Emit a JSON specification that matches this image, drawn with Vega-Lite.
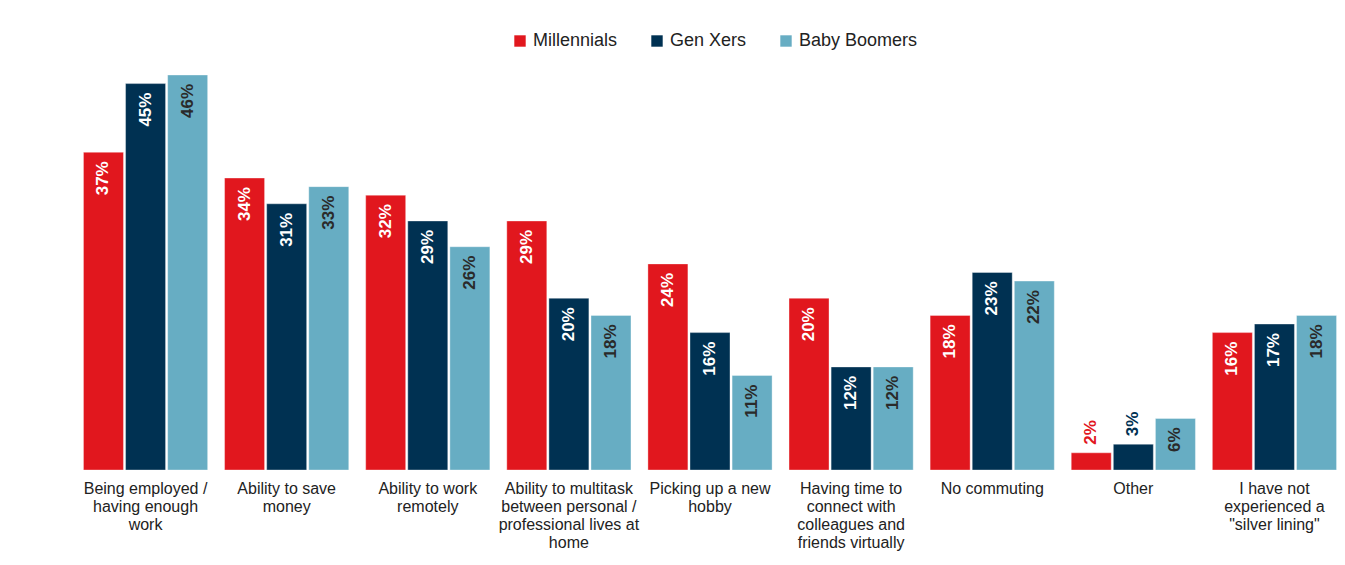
{
  "$schema": "https://vega.github.io/schema/vega-lite/v6.json",
  "width": 1270,
  "height": 395,
  "autosize": {"type": "none"},
  "padding": {"left": 75, "top": 75, "right": 0, "bottom": 95},
  "background": "white",
  "config": {
    "font": "Liberation Sans",
    "view": {"stroke": null}
  },
  "data": {
    "values": [
      {"c": "Being employed / having enough work", "g": "Millennials", "v": 37},
      {"c": "Being employed / having enough work", "g": "Gen Xers", "v": 45},
      {"c": "Being employed / having enough work", "g": "Baby Boomers", "v": 46},
      {"c": "Ability to save money", "g": "Millennials", "v": 34},
      {"c": "Ability to save money", "g": "Gen Xers", "v": 31},
      {"c": "Ability to save money", "g": "Baby Boomers", "v": 33},
      {"c": "Ability to work remotely", "g": "Millennials", "v": 32},
      {"c": "Ability to work remotely", "g": "Gen Xers", "v": 29},
      {"c": "Ability to work remotely", "g": "Baby Boomers", "v": 26},
      {"c": "Ability to multitask between personal / professional lives at home", "g": "Millennials", "v": 29},
      {"c": "Ability to multitask between personal / professional lives at home", "g": "Gen Xers", "v": 20},
      {"c": "Ability to multitask between personal / professional lives at home", "g": "Baby Boomers", "v": 18},
      {"c": "Picking up a new hobby", "g": "Millennials", "v": 24},
      {"c": "Picking up a new hobby", "g": "Gen Xers", "v": 16},
      {"c": "Picking up a new hobby", "g": "Baby Boomers", "v": 11},
      {"c": "Having time to connect with colleagues and friends virtually", "g": "Millennials", "v": 20},
      {"c": "Having time to connect with colleagues and friends virtually", "g": "Gen Xers", "v": 12},
      {"c": "Having time to connect with colleagues and friends virtually", "g": "Baby Boomers", "v": 12},
      {"c": "No commuting", "g": "Millennials", "v": 18},
      {"c": "No commuting", "g": "Gen Xers", "v": 23},
      {"c": "No commuting", "g": "Baby Boomers", "v": 22},
      {"c": "Other", "g": "Millennials", "v": 2},
      {"c": "Other", "g": "Gen Xers", "v": 3},
      {"c": "Other", "g": "Baby Boomers", "v": 6},
      {"c": "I have not experienced a \"silver lining\"", "g": "Millennials", "v": 16},
      {"c": "I have not experienced a \"silver lining\"", "g": "Gen Xers", "v": 17},
      {"c": "I have not experienced a \"silver lining\"", "g": "Baby Boomers", "v": 18}
    ]
  },
  "transform": [{"calculate": "datum.v + '%'", "as": "lbl"}],
  "encoding": {
    "x": {
      "field": "c",
      "type": "nominal",
      "sort": null,
      "scale": {"paddingInner": 0.12, "paddingOuter": 0.06},
      "axis": {
        "title": null,
        "labelAngle": 0,
        "domain": false,
        "ticks": false,
        "labelPadding": 10,
        "labelFontSize": 16,
        "labelColor": "#222222",
        "labelLineHeight": 18,
        "labelLimit": 300,
        "labelExpr": "{'Being employed / having enough work': ['Being employed /', 'having enough', 'work'], 'Ability to save money': ['Ability to save', 'money'], 'Ability to work remotely': ['Ability to work', 'remotely'], 'Ability to multitask between personal / professional lives at home': ['Ability to multitask', 'between personal /', 'professional lives at', 'home'], 'Picking up a new hobby': ['Picking up a new', 'hobby'], 'Having time to connect with colleagues and friends virtually': ['Having time to', 'connect with', 'colleagues and', 'friends virtually'], 'No commuting': ['No commuting'], 'Other': ['Other'], 'I have not experienced a \"silver lining\"': ['I have not', 'experienced a', '\"silver lining\"']}[datum.label]"
      }
    },
    "xOffset": {
      "field": "g",
      "type": "nominal",
      "sort": ["Millennials", "Gen Xers", "Baby Boomers"],
      "scale": {"paddingInner": 0.05}
    },
    "y": {
      "field": "v",
      "type": "quantitative",
      "scale": {"domain": [0, 46], "nice": false},
      "axis": null
    }
  },
  "layer": [
    {
      "mark": {"type": "bar", "stroke": "#ffffff", "strokeOpacity": 0.35, "strokeWidth": 1},
      "encoding": {
        "color": {
          "field": "g",
          "type": "nominal",
          "sort": ["Millennials", "Gen Xers", "Baby Boomers"],
          "scale": {"domain": ["Millennials", "Gen Xers", "Baby Boomers"], "range": ["#e1171e", "#003152", "#67adc3"]},
          "legend": {
            "orient": "none",
            "legendX": 436,
            "legendY": -43,
            "direction": "horizontal",
            "title": null,
            "symbolType": "square",
            "symbolSize": 130,
            "symbolStrokeWidth": 0,
            "labelFontSize": 18,
            "labelColor": "#222222",
            "columnPadding": 30,
            "labelOffset": 4
          }
        }
      }
    },
    {
      "transform": [{"filter": "datum.v >= 5"}],
      "mark": {"type": "text", "angle": 270, "align": "right", "baseline": "middle", "dx": -9, "fontSize": 17, "fontWeight": "bold"},
      "encoding": {
        "text": {"field": "lbl", "type": "nominal"},
        "color": {
          "condition": {"test": "datum.g == 'Baby Boomers'", "value": "#2a2a2a"},
          "value": "#ffffff"
        }
      }
    },
    {
      "transform": [{"filter": "datum.v < 5"}],
      "mark": {"type": "text", "angle": 270, "align": "left", "baseline": "middle", "dx": 8, "fontSize": 17, "fontWeight": "bold"},
      "encoding": {
        "text": {"field": "lbl", "type": "nominal"},
        "color": {
          "field": "g",
          "type": "nominal",
          "legend": null
        }
      }
    }
  ]
}
